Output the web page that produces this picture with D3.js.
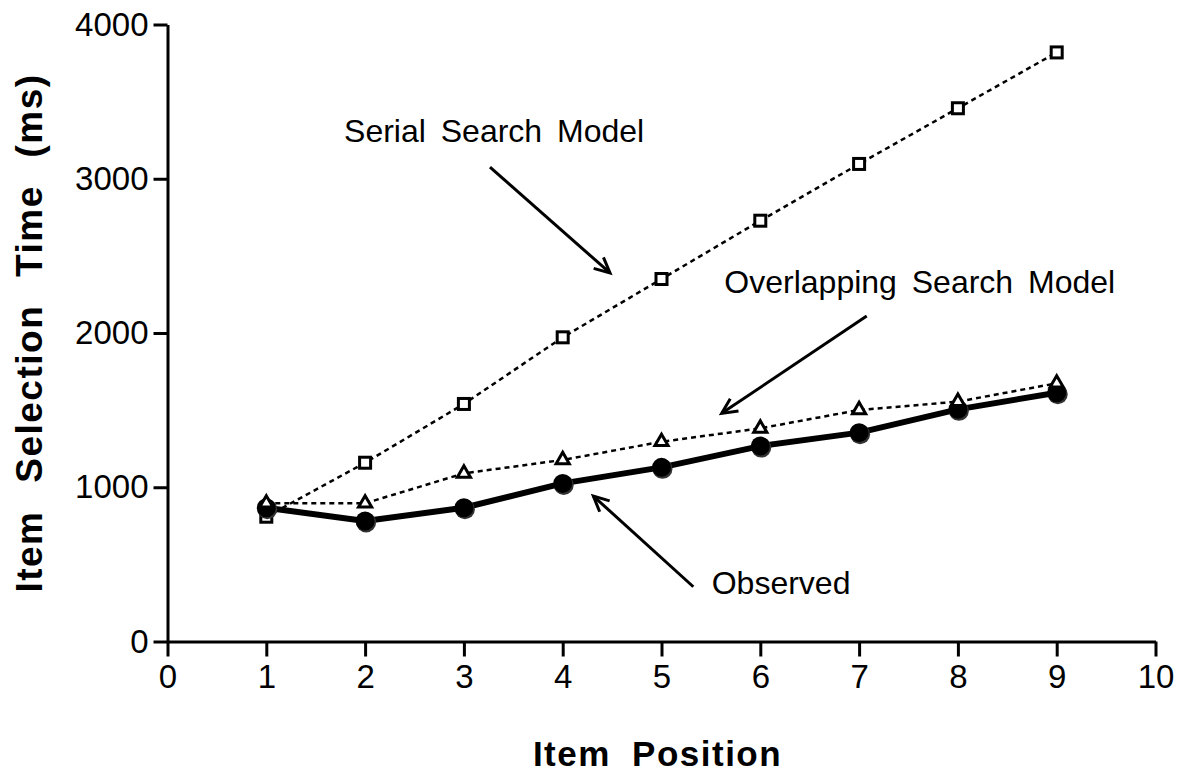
<!DOCTYPE html>
<html lang="en">
	<head>
		<meta charset="utf-8">
		<title>item selection time</title>
		<script type="text/javascript" src="https://cdn.jsdelivr.net/npm/d3@7/dist/d3.min.js"></script>
		<style type="text/css">
			body { margin: 0; background: #fff; }
			text { font-family: "Liberation Sans", Arial, Helvetica, sans-serif; fill: #000; }
		</style>
	</head>

	<body>
        <script type="text/javascript">

            // values
            var positions = [1, 2, 3, 4, 5, 6, 7, 8, 9];
            var serial = [809, 1159, 1540, 1972, 2350, 2728, 3096, 3457, 3819];
            var overlapping = [896, 896, 1090, 1177, 1295, 1382, 1501, 1555, 1674];
            var observed = [867, 781, 867, 1025, 1129, 1267, 1354, 1505, 1613];

            var xTicks = [0, 1, 2, 3, 4, 5, 6, 7, 8, 9, 10];
            var yTicks = [0, 1000, 2000, 3000, 4000];

            // annotations, in data units: label anchor, arrow tail, arrow head
            var notes = [
                { text: "Serial Search Model", tx: 1.787, ty: 3241, x1: 3.264, y1: 3076, x2: 4.479, y2: 2389 },
                { text: "Overlapping Search Model", tx: 5.636, ty: 2257, x1: 7.077, y1: 2110, x2: 5.609, y2: 1479 },
                { text: "Observed", tx: 5.508, ty: 306, x1: 5.322, y1: 355, x2: 4.310, y2: 943 }
            ];

            // chart width and height
            var w = 1179;
            var h = 777;
            var pLeft = 167.5, pRight = 1155.5, pTop = 24.5, pBottom = 641.5;

            var xScale = d3.scaleLinear().domain([0, 10]).range([pLeft, pRight]);
            var yScale = d3.scaleLinear().domain([0, 4000]).range([pBottom, pTop]);

            var svg = d3.select("body")
                        .append("svg")
                        .attr("width", w)
                        .attr("height", h);

            //x axis
            var xAxis = d3.axisBottom(xScale)
                          .tickValues(xTicks)
                          .tickFormat(d3.format("d"))
                          .tickSize(15)
                          .tickSizeOuter(0)
                          .tickPadding(8);

            var gx = svg.append("g")
                .attr("transform", "translate(0," + pBottom + ")")
                .call(xAxis);

            //y axis
            var yAxis = d3.axisLeft(yScale)
                          .tickValues(yTicks)
                          .tickFormat(d3.format("d"))
                          .tickSize(14)
                          .tickSizeOuter(0)
                          .tickPadding(5);

            var gy = svg.append("g")
                .attr("transform", "translate(" + pLeft + ",0)")
                .call(yAxis);

            [gx, gy].forEach(function(g) {
                g.attr("font-size", null).attr("font-family", null);
                g.select(".domain").attr("stroke", "#000").attr("stroke-width", 3);
                g.selectAll(".tick line").attr("stroke", "#000").attr("stroke-width", 3);
                g.selectAll(".tick text").attr("font-size", 33);
            });

            var pts = function(vals) {
                return positions.map(function(p, i) { return [p, vals[i]]; });
            };

            var line = d3.line()
                .x(function(d) { return xScale(d[0]); })
                .y(function(d) { return yScale(d[1]); });

            //serial search model
            svg.append("path")
                .datum(pts(serial))
                .attr("d", line)
                .attr("fill", "none")
                .attr("stroke", "#000")
                .attr("stroke-width", 2.5)
                .attr("stroke-dasharray", "5,4");

            svg.selectAll("rect.serial")
                .data(pts(serial))
                .enter()
                .append("rect")
                .attr("class", "serial")
                .attr("x", function(d) { return xScale(d[0]) - 5.5; })
                .attr("y", function(d) { return yScale(d[1]) - 5.5; })
                .attr("width", 11)
                .attr("height", 11)
                .attr("fill", "#fff")
                .attr("stroke", "#000")
                .attr("stroke-width", 3);

            //observed
            svg.append("path")
                .datum(pts(observed))
                .attr("d", line)
                .attr("fill", "none")
                .attr("stroke", "#000")
                .attr("stroke-width", 6)
                .attr("stroke-linejoin", "round");

            svg.selectAll("circle.shadow")
                .data(pts(observed))
                .enter()
                .append("circle")
                .attr("class", "shadow")
                .attr("cx", function(d) { return xScale(d[0]) + 1; })
                .attr("cy", function(d) { return yScale(d[1]) + 1.5; })
                .attr("r", 10)
                .attr("fill", "#333");

            svg.selectAll("circle.obs")
                .data(pts(observed))
                .enter()
                .append("circle")
                .attr("class", "obs")
                .attr("cx", function(d) { return xScale(d[0]); })
                .attr("cy", function(d) { return yScale(d[1]); })
                .attr("r", 9.5)
                .attr("fill", "#000");

            //overlapping search model
            svg.append("path")
                .datum(pts(overlapping))
                .attr("d", line)
                .attr("fill", "none")
                .attr("stroke", "#000")
                .attr("stroke-width", 2.5)
                .attr("stroke-dasharray", "5,4");

            var tri = d3.symbol().type(d3.symbolTriangle).size(75);
            svg.selectAll("path.tri")
                .data(pts(overlapping))
                .enter()
                .append("path")
                .attr("class", "tri")
                .attr("d", tri)
                .attr("transform", function(d) {
                    return "translate(" + xScale(d[0]) + "," + yScale(d[1]) + ")";
                })
                .attr("fill", "#fff")
                .attr("stroke", "#000")
                .attr("stroke-width", 3);

            //annotations with open arrows
            notes.forEach(function(n) {
                svg.append("text")
                    .attr("x", xScale(n.tx))
                    .attr("y", yScale(n.ty))
                    .attr("font-size", 32)
                    .attr("word-spacing", 6)
                    .text(n.text);

                var ax1 = xScale(n.x1), ay1 = yScale(n.y1);
                var ax2 = xScale(n.x2), ay2 = yScale(n.y2);
                svg.append("line")
                    .attr("x1", ax1).attr("y1", ay1)
                    .attr("x2", ax2).attr("y2", ay2)
                    .attr("stroke", "#000")
                    .attr("stroke-width", 3);

                var ang = Math.atan2(ay2 - ay1, ax2 - ax1);
                var len = 17, spread = 0.45;
                var head = [
                    [ax2 - len * Math.cos(ang - spread), ay2 - len * Math.sin(ang - spread)],
                    [ax2, ay2],
                    [ax2 - len * Math.cos(ang + spread), ay2 - len * Math.sin(ang + spread)]
                ];
                svg.append("path")
                    .attr("d", d3.line()(head))
                    .attr("fill", "none")
                    .attr("stroke", "#000")
                    .attr("stroke-width", 3);
            });

            //axis titles
            svg.append("text")
                .attr("x", (pLeft + pRight) / 2 - 4)
                .attr("y", 766)
                .attr("text-anchor", "middle")
                .attr("font-size", 35)
                .attr("font-weight", "bold")
                .attr("word-spacing", 10)
                .attr("letter-spacing", 1.5)
                .text("Item Position");

            svg.append("text")
                .attr("transform", "translate(42," + ((pTop + pBottom) / 2) + ") rotate(-90)")
                .attr("text-anchor", "middle")
                .attr("font-size", 37)
                .attr("font-weight", "bold")
                .attr("word-spacing", 16)
                .attr("letter-spacing", 1.5)
                .text("Item Selection Time (ms)");

        </script>
	</body>
</html>
